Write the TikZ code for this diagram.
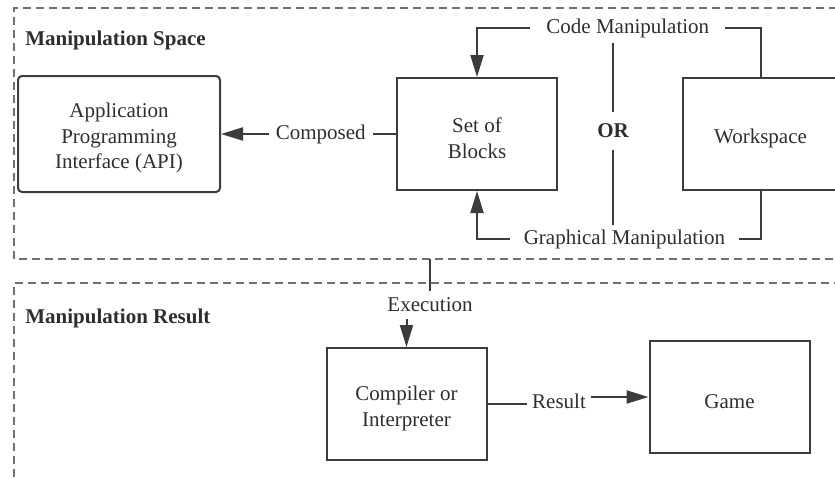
\documentclass[tikz,border=0pt]{standalone}
\usepackage{fontspec}
\setmainfont{Liberation Serif}
\usepackage{tikz}
\usetikzlibrary{positioning,arrows.meta}
\usepackage{xcolor}
\definecolor{inkgray}{HTML}{3C3C3C}
\definecolor{framegray}{HTML}{707070}
\definecolor{textgray}{HTML}{2E2E2E}
\newcommand{\boxstrut}{\rule{0pt}{11.7pt}}

\begin{document}
\begin{tikzpicture}[
    x=0.5pt, y=-0.5pt,
    font=\fontsize{10.5}{12.75}\selectfont, text=textgray,
    blockBox/.style={rectangle, draw=inkgray, line width=1pt, minimum width=80pt, minimum height=56pt, align=center, inner sep=3pt},
    apiBox/.style={blockBox, rounded corners=2pt, minimum width=101pt, minimum height=58pt},
    areaTitle/.style={anchor=base west, inner sep=0pt, font=\fontsize{10.5}{12.75}\selectfont\bfseries},
    edgeLabel/.style={fill=white, inner ysep=1pt, inner xsep=3.5pt},
    flowArrow/.style={-{Triangle[length=11pt, width=6.5pt]}, line width=1pt, draw=inkgray},
    flowLine/.style={line width=1pt, draw=inkgray},
    frameLine/.style={draw=framegray, line width=0.6pt, dash pattern=on 4pt off 2.5pt}
]
    \useasboundingbox (0,0) rectangle (835,477);

    % Dashed areas
    \draw[frameLine] (850,8) -- (14,8) -- (14,259) -- (850,259);
    \draw[frameLine] (14,490) -- (14,283) -- (850,283);
    \node[areaTitle] (spaceTitle) at (25,45) {Manipulation Space};
    \node[areaTitle] (resultTitle) at (25,323) {Manipulation Result};

    % Manipulation space
    \node[apiBox] (api) at (119,134) {\boxstrut Application\\Programming\\Interface (API)};
    \node[blockBox, right=87.5pt of api] (blocks) {\boxstrut Set of\\Blocks};
    \node[blockBox, minimum width=77.5pt, right=62pt of blocks] (work) {\boxstrut Workspace};

    \draw[flowArrow] (blocks.west) -- node[edgeLabel, pos=0.43] (composedLbl) {Composed} (api.east);

    \draw[flowArrow] (work.north) -- ++(0,-49)
        -| node[edgeLabel, inner xsep=8pt, pos=0.234] (codeLbl) {Code Manipulation} (blocks.north);
    \draw[flowArrow] (work.south) -- ++(0,48)
        -| node[edgeLabel, inner xsep=7pt, pos=0.24] (graphLbl) {Graphical Manipulation} (blocks.south);

    % OR separator
    \coordinate (orTop) at (613,43);
    \coordinate (orBot) at (613,225);
    \node[inner xsep=2pt, inner ysep=6pt, font=\fontsize{10.5}{12.75}\selectfont\bfseries] (orSep) at (613,131) {OR};
    \draw[flowLine] (orTop) -- (orSep.north);
    \draw[flowLine] (orSep.south) -- (orBot);

    % Manipulation result
    \node[blockBox] (comp) at (406.5,404) {\boxstrut Compiler or\\Interpreter};
    \node[blockBox, right=80.5pt of comp, yshift=3.5pt] (game) {\boxstrut Game};

    \coordinate (execTop) at (430,259);
    \node[inner xsep=2pt, inner ysep=3.5pt] (execLbl) at (430,305) {Execution};
    \draw[flowLine] (execTop) -- (execLbl.north);
    \draw[flowArrow] (execLbl.south -| comp.north) -- (comp.north);

    \node[inner xsep=2.5pt, inner ysep=1pt] (resultLbl) at (559,401) {Result};
    \draw[flowLine] (comp.east) -- (comp.east -| resultLbl.west);
    \draw[flowArrow] (game.west -| resultLbl.east) -- (game.west);

\end{tikzpicture}
\end{document}
